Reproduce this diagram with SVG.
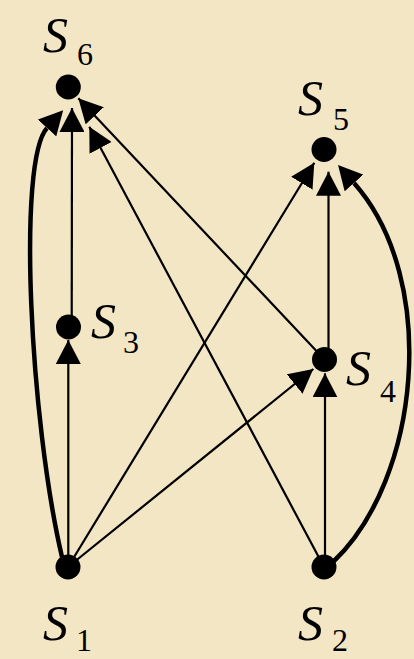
<svg xmlns="http://www.w3.org/2000/svg" width="414" height="659" viewBox="0 0 414 659">
<style>
.bg{fill:#F3E6C4}
.thin{fill:none;stroke:#000;stroke-width:2.2}
.thick{fill:none;stroke:#000;stroke-width:4.5}
.dot{fill:#000}
</style>
<defs>
<marker id="tip" viewBox="0 0 24 25" refX="24" refY="12.5" markerWidth="24" markerHeight="25" markerUnits="userSpaceOnUse" orient="auto"><path d="M0,0 L24,12.5 L0,25 z" fill="#000"/></marker>
<marker id="base" viewBox="0 0 24 25" refX="0" refY="12.5" markerWidth="24" markerHeight="25" markerUnits="userSpaceOnUse" orient="auto"><path d="M0,0 L24,12.5 L0,25 z" fill="#000"/></marker>
</defs>
<rect class="bg" x="0" y="0" width="414" height="659"/>
<g id="connectors">
<line class="thin" x1="68.3" y1="567" x2="68.3" y2="340" marker-end="url(#tip)"/>
<line class="thin" x1="71.7" y1="327" x2="72" y2="108" marker-end="url(#tip)"/>
<line class="thin" x1="324" y1="359" x2="78.3" y2="98.3" marker-end="url(#tip)"/>
<line class="thin" x1="324" y1="567" x2="89.3" y2="126.7" marker-end="url(#tip)"/>
<line class="thin" x1="68" y1="567" x2="314.3" y2="162.7" marker-end="url(#tip)"/>
<line class="thin" x1="68" y1="567" x2="313.3" y2="369" marker-end="url(#tip)"/>
<line class="thin" x1="328.5" y1="359" x2="328.5" y2="171.7" marker-end="url(#tip)"/>
<line class="thin" x1="325" y1="567" x2="325" y2="373.3" marker-end="url(#tip)"/>
<path class="thick" d="M62,557 C30,420 17,161 47,128" marker-end="url(#base)"/>
<path class="thick" d="M333,562 C420,480 440,280 354,183" marker-end="url(#base)"/>
</g>
<g id="S6"><circle class="dot" cx="68.3" cy="87" r="12.5"/><text x="43" y="52" font-family="Liberation Serif, serif" font-style="italic" font-size="50">S</text><text x="77" y="65" font-family="Liberation Serif, serif" font-size="32">6</text></g>
<g id="S5"><circle class="dot" cx="324" cy="149.5" r="12.5"/><text x="298" y="115" font-family="Liberation Serif, serif" font-style="italic" font-size="50">S</text><text x="333" y="130" font-family="Liberation Serif, serif" font-size="32">5</text></g>
<g id="S3"><circle class="dot" cx="68.5" cy="327" r="12.5"/><text x="91" y="338" font-family="Liberation Serif, serif" font-style="italic" font-size="50">S</text><text x="123" y="353" font-family="Liberation Serif, serif" font-size="32">3</text></g>
<g id="S4"><circle class="dot" cx="324.5" cy="359.5" r="12.5"/><text x="346" y="385" font-family="Liberation Serif, serif" font-style="italic" font-size="50">S</text><text x="380" y="402" font-family="Liberation Serif, serif" font-size="32">4</text></g>
<g id="S1"><circle class="dot" cx="68" cy="567" r="12.5"/><text x="43" y="640" font-family="Liberation Serif, serif" font-style="italic" font-size="50">S</text><text x="76" y="651" font-family="Liberation Serif, serif" font-size="32">1</text></g>
<g id="S2"><circle class="dot" cx="324" cy="567" r="12.5"/><text x="298" y="640" font-family="Liberation Serif, serif" font-style="italic" font-size="50">S</text><text x="332" y="651" font-family="Liberation Serif, serif" font-size="32">2</text></g>
</svg>
